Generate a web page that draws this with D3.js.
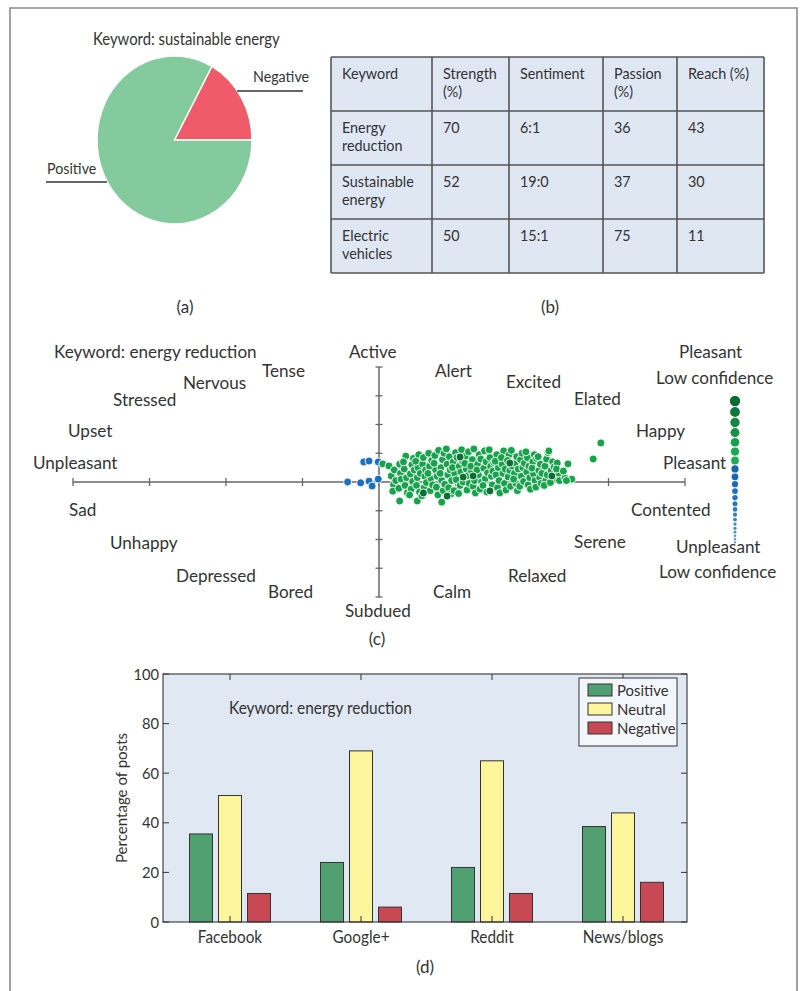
<!DOCTYPE html>
<html>
<head>
<meta charset="utf-8">
<script src="https://cdn.jsdelivr.net/npm/d3@7"></script>
<style>
  html, body { margin: 0; padding: 0; background: #fff; }
  svg text { font-family: Lato, "Open Sans", sans-serif; fill: #333; }
</style>
</head>
<body>
<svg id="fig" width="801" height="991"></svg>
<script>
// ---------- (a) pie: sentiment share for "sustainable energy" ----------
const pieLabels = ["Negative", "Positive"];
const pieValues = [17, 83];

// ---------- (b) keyword metrics table ----------
const tableHeaders = [["Keyword"], ["Strength", "(%)"], ["Sentiment"], ["Passion", "(%)"], ["Reach (%)"]];
const tableKeywords = [["Energy", "reduction"], ["Sustainable", "energy"], ["Electric", "vehicles"]];
const tableStrength = [70, 52, 50];
const tableSentiment = ["6:1", "19:0", "15:1"];
const tablePassion = [36, 37, 75];
const tableReach = [43, 30, 11];

// ---------- (c) valence / arousal scatter ----------
const moodLabels = [
  ["Keyword: energy reduction", 54, 358], ["Active", 349, 358], ["Tense", 262, 377],
  ["Nervous", 183, 389], ["Stressed", 113, 406], ["Upset", 68, 437], ["Unpleasant", 33, 469],
  ["Sad", 69, 516], ["Unhappy", 110, 549], ["Depressed", 176, 582], ["Bored", 268, 598],
  ["Subdued", 345, 617], ["Alert", 435, 377], ["Excited", 506, 388], ["Elated", 574, 405],
  ["Happy", 636, 437], ["Pleasant", 663, 469], ["Contented", 631, 516], ["Serene", 574, 548],
  ["Relaxed", 508, 582], ["Calm", 433, 598],
  ["Pleasant", 679, 358], ["Low confidence", 656, 384],
  ["Unpleasant", 676, 553], ["Low confidence", 659, 578]
];
// posts scored unpleasant (valence, arousal)
const negativePosts = [
  [-0.2, 0.7], [-0.13, 0.73], [-0.01, 0.7], [-0.41, 0.0],
  [-0.24, -0.03], [-0.13, 0.03], [-0.09, -0.14], [-0.01, 0.1]
];
// posts scored pleasant (valence, arousal)
const positivePosts = [
  [0.05, 0.63], [0.13, 0.56], [0.27, -0.66], [0.5, -0.66], [0.82, -0.7],
  [0.16, 0.21], [0.19, -0.1], [0.2, 0.42], [0.18, -0.32], [0.22, 0.05],
  [0.27, 0.62], [0.26, -0.22], [0.28, 0.3], [0.29, 0.1],
  [0.35, 0.9], [0.33, 0.45], [0.36, 0.15], [0.34, -0.12], [0.37, -0.38], [0.32, 0.7],
  [0.41, 0.28], [0.43, 0.6], [0.42, -0.25], [0.44, 0.02], [0.45, 0.82], [0.4, -0.45], [0.46, 0.42],
  [0.5, 0.15], [0.51, 0.5], [0.49, -0.12], [0.52, 0.95], [0.53, -0.35], [0.48, 0.72], [0.54, 0.3],
  [0.57, 0.62], [0.59, -0.2], [0.6, 0.2], [0.58, 0.85], [0.61, 0.42], [0.62, -0.02], [0.56, -0.48],
  [0.65, 1.0], [0.66, 0.55], [0.67, -0.3], [0.68, 0.12], [0.64, 0.3], [0.69, 0.75], [0.7, -0.1],
  [0.73, 0.92], [0.74, 0.42], [0.75, -0.18], [0.76, 0.2], [0.72, 0.65], [0.77, -0.45], [0.78, 1.1],
  [0.81, 0.5], [0.82, 0.05], [0.83, 0.78], [0.84, -0.3], [0.8, 0.3], [0.85, 1.0], [0.86, -0.08],
  [0.89, 0.62], [0.9, 0.25], [0.91, -0.2], [0.92, 0.88], [0.88, 1.15], [0.93, 0.42], [0.94, -0.42], [0.95, 0.05],
  [0.97, 0.7], [0.98, -0.3], [0.99, 0.3], [1.0, 1.02], [0.96, 0.5], [1.01, 0.08], [1.02, 0.85],
  [1.05, 0.55], [1.06, -0.12], [1.07, 0.35], [1.08, 1.12], [1.04, -0.4], [1.09, 0.72], [1.1, 0.0],
  [1.13, 0.9], [1.14, 0.45], [1.15, -0.28], [1.16, 0.22], [1.12, 0.65], [1.17, 1.05], [1.18, -0.05],
  [1.21, 0.38], [1.22, 0.78], [1.23, -0.15], [1.24, 1.15], [1.2, 0.55], [1.25, 0.05], [1.26, -0.38],
  [1.29, 0.62], [1.3, 0.25], [1.31, 0.95], [1.32, -0.25], [1.28, 0.42], [1.33, 0.8], [1.34, 0.0],
  [1.37, 0.48], [1.38, 1.08], [1.39, 0.12], [1.4, 0.7], [1.36, -0.12], [1.41, -0.35], [1.42, 0.32],
  [1.45, 0.85], [1.46, 0.55], [1.47, 0.2], [1.48, -0.1], [1.44, 1.12], [1.49, 0.38], [1.5, 0.68],
  [1.53, 0.25], [1.54, 0.95], [1.55, -0.2], [1.56, 0.5], [1.52, 0.72], [1.57, 0.05], [1.58, -0.38],
  [1.61, 0.62], [1.62, 0.3], [1.63, 1.08], [1.64, -0.05], [1.6, 0.85], [1.65, 0.45], [1.66, -0.28],
  [1.69, 0.18], [1.7, 0.95], [1.71, 0.4], [1.72, -0.15], [1.68, 0.75], [1.73, 1.1], [1.74, 0.55],
  [1.77, 0.3], [1.78, 0.65], [1.79, -0.05], [1.8, 0.88], [1.76, 0.1], [1.81, -0.3], [1.82, 0.45],
  [1.85, 0.78], [1.86, 0.2], [1.87, 1.0], [1.88, 0.5], [1.84, -0.15], [1.89, 0.02], [1.9, 0.65],
  [1.93, 0.35], [1.94, 0.85], [1.95, -0.1], [1.96, 0.55], [1.92, 1.05], [1.97, 0.15], [1.98, -0.25],
  [2.01, 0.7], [2.02, 0.28], [2.03, 0.95], [2.04, 0.05], [2.0, 0.48], [2.05, -0.18], [2.06, 0.82],
  [2.09, 0.4], [2.1, 0.15], [2.11, 0.62], [2.12, -0.05], [2.08, 0.88], [2.13, 0.3],
  [2.17, 0.55], [2.18, 0.05], [2.19, 0.8], [2.2, 0.25], [2.16, -0.12], [2.21, 1.02],
  [2.25, 0.4], [2.27, 0.7], [2.28, 0.12], [2.24, -0.02], [2.29, 0.52],
  [2.33, 0.66], [2.35, 0.3], [2.36, 0.05], [2.32, 0.45],
  [2.43, 0.14], [2.41, 0.38], [2.47, 0.63], [2.52, 0.1], [2.45, 0.05],
  [2.22, 1.08], [2.80, 0.80], [2.90, 1.36]
];
// strongly pleasant, high-confidence posts
const strongPosts = [
  [0.58, -0.38], [0.89, -0.49], [1.10, 0.17], [1.23, 0.21],
  [1.06, 0.87], [1.71, 0.66], [1.45, -0.31], [2.26, 0.21]
];
// confidence key: dot radius and colour, top (pleasant) to bottom (unpleasant)
const keyRadii = [5.2, 4.9, 4.7, 4.5, 4.3, 4.1, 3.9, 3.6, 3.4, 3.1, 2.9, 2.7, 2.5, 2.3, 2.1, 1.9, 1.7, 1.6, 1.4, 1.3, 1.2, 1.1];
const keyColors = ["#0b6b35", "#0d7a3c", "#0f8841", "#129646", "#15a04b", "#19a84f", "#1fae55",
  "#1266b4", "#1468b8", "#176cbb", "#1a70be", "#1e74c1", "#2378c4", "#287cc6", "#2d80c9",
  "#3284cb", "#3888cd", "#3e8ccf", "#4490d1", "#4a94d3", "#5098d5", "#569cd7"];

// ---------- (d) sentiment by channel ----------
const channels = ["Facebook", "Google+", "Reddit", "News/blogs"];
const sentimentSeries = ["Positive", "Neutral", "Negative"];
const positiveShare = [35.5, 24, 22, 38.5];
const neutralShare = [51, 69, 65, 44];
const negativeShare = [11.5, 6, 11.5, 16];
const percentTicks = [0, 20, 40, 60, 80, 100];

const svg = d3.select("#fig");

// squeeze a text element horizontally by factor k (narrow typeface look)
function narrow(sel, k) {
  sel.each(function () {
    const len = this.getComputedTextLength();
    d3.select(this).attr("textLength", len * k).attr("lengthAdjust", "spacingAndGlyphs");
  });
  return sel;
}

// outer frame
svg.append("path").attr("d", "M10,1000 V8 H797 V1000")
  .attr("fill", "none").attr("stroke", "#8a8a8a").attr("stroke-width", 1.6);

// ===== (a) =====
{
  const g = svg.append("g").attr("transform", "translate(174.5,140) scale(77.5,84)");
  const negFrac = pieValues[0] / d3.sum(pieValues);
  const start = Math.PI / 2 - 2 * Math.PI * negFrac;
  const pie = d3.pie().sort(null).startAngle(start).endAngle(start + 2 * Math.PI);
  const arc = d3.arc().innerRadius(0).outerRadius(1);
  const colors = { Negative: "#ef5b69", Positive: "#83cb9d" };
  g.selectAll("path").data(pie(pieValues)).join("path")
    .attr("d", arc)
    .attr("fill", (d, i) => colors[pieLabels[i]])
    .attr("stroke", "#fff").attr("stroke-width", 0.018);

  narrow(svg.append("text").attr("x", 93).attr("y", 45).attr("font-size", 16.5).text("Keyword: sustainable energy"), 0.9);
  narrow(svg.append("text").attr("x", 253).attr("y", 82).attr("font-size", 15.5).text(pieLabels[0]), 0.92);
  svg.append("line").attr("x1", 237).attr("x2", 303).attr("y1", 91).attr("y2", 91)
    .attr("stroke", "#333").attr("stroke-width", 1.4);
  narrow(svg.append("text").attr("x", 47).attr("y", 174).attr("font-size", 15.5).text(pieLabels[1]), 0.92);
  svg.append("line").attr("x1", 46).attr("x2", 107).attr("y1", 182).attr("y2", 182)
    .attr("stroke", "#333").attr("stroke-width", 1.4);
  svg.append("text").attr("x", 185).attr("y", 313).attr("font-size", 17)
    .attr("text-anchor", "middle").text("(a)");
}

// ===== (b) =====
{
  const colEdges = [331, 432, 509, 603, 677, 764];
  const rowEdges = [57, 111, 165, 219, 273];
  const g = svg.append("g");
  g.append("rect").attr("x", colEdges[0]).attr("y", rowEdges[0])
    .attr("width", colEdges[5] - colEdges[0]).attr("height", rowEdges[4] - rowEdges[0])
    .attr("fill", "#dfe7f3");
  const rows = [tableHeaders].concat(tableKeywords.map((k, i) =>
    [k, [String(tableStrength[i])], [tableSentiment[i]], [String(tablePassion[i])], [String(tableReach[i])]]));
  rows.forEach((row, r) => {
    row.forEach((lines, c) => {
      lines.forEach((ln, li) => {
        narrow(g.append("text").attr("x", colEdges[c] + 11).attr("y", rowEdges[r] + 22 + li * 17.5)
          .attr("font-size", 15.8).text(ln), 0.91);
      });
    });
  });
  colEdges.forEach(x => g.append("line").attr("x1", x).attr("x2", x)
    .attr("y1", rowEdges[0]).attr("y2", rowEdges[4]).attr("stroke", "#555").attr("stroke-width", 1.6));
  rowEdges.forEach(y => g.append("line").attr("x1", colEdges[0]).attr("x2", colEdges[5])
    .attr("y1", y).attr("y2", y).attr("stroke", "#555").attr("stroke-width", 1.6));
  svg.append("text").attr("x", 550).attr("y", 313).attr("font-size", 17)
    .attr("text-anchor", "middle").text("(b)");
}

// ===== (c) =====
{
  const x = d3.scaleLinear().domain([-4, 4]).range([73, 685]);
  const y = d3.scaleLinear().domain([-4, 4]).range([597, 367]);
  const g = svg.append("g");
  const axisColor = "#666";
  g.append("line").attr("x1", x(-4)).attr("x2", x(4)).attr("y1", y(0)).attr("y2", y(0))
    .attr("stroke", axisColor).attr("stroke-width", 1.5);
  g.append("line").attr("x1", x(0)).attr("x2", x(0)).attr("y1", y(-4)).attr("y2", y(4))
    .attr("stroke", axisColor).attr("stroke-width", 1.5);
  g.selectAll(".xt").data(x.ticks(8)).join("line")
    .attr("x1", d => x(d)).attr("x2", d => x(d)).attr("y1", y(0) - 4).attr("y2", y(0) + 4)
    .attr("stroke", axisColor).attr("stroke-width", 1.3);
  g.selectAll(".yt").data(y.ticks(8)).join("line")
    .attr("x1", x(0) - 3.5).attr("x2", x(0) + 3.5).attr("y1", d => y(d)).attr("y2", d => y(d))
    .attr("stroke", axisColor).attr("stroke-width", 1.3);

  moodLabels.forEach(([t, lx, ly]) => {
    narrow(g.append("text").attr("x", lx).attr("y", ly).attr("font-size", 18.2).text(t), 0.94);
  });

  const dot = (data, color) => g.append("g").selectAll("circle").data(data).join("circle")
    .attr("cx", d => x(d[0])).attr("cy", d => y(d[1])).attr("r", 4)
    .attr("fill", color).attr("stroke", "#fff").attr("stroke-width", 0.9);
  dot(negativePosts, "#1b6fc0");
  dot(positivePosts, "#18a24c");
  dot(strongPosts, "#0d6e36");

  // confidence key column
  let cy = 401;
  keyRadii.forEach((r, i) => {
    if (i > 0) cy += keyRadii[i - 1] + r + 0.9;
    g.append("circle").attr("cx", 735).attr("cy", cy).attr("r", r).attr("fill", keyColors[i]);
  });

  svg.append("text").attr("x", 377).attr("y", 645).attr("font-size", 17)
    .attr("text-anchor", "middle").text("(c)");
}

// ===== (d) =====
{
  const left = 163, right = 687, top = 674, bottom = 922;
  const x = d3.scaleBand().domain(channels).range([left, right]);
  const xs = d3.scaleBand().domain(sentimentSeries).range([-40.5, 40.5]).paddingInner(6 / 29);
  const y = d3.scaleLinear().domain([0, 100]).range([bottom, top]);
  const seriesValues = { Positive: positiveShare, Neutral: neutralShare, Negative: negativeShare };
  const seriesColors = { Positive: "#51a071", Neutral: "#fdf59b", Negative: "#c84853" };
  const g = svg.append("g");
  g.append("rect").attr("x", left).attr("y", top).attr("width", right - left).attr("height", bottom - top)
    .attr("fill", "#e0e8f4");

  sentimentSeries.forEach(s => {
    g.append("g").selectAll("rect").data(channels).join("rect")
      .attr("x", c => x(c) + x.bandwidth() / 2 + xs(s) + 1.5)
      .attr("width", xs.bandwidth())
      .attr("y", (c, i) => y(seriesValues[s][i]))
      .attr("height", (c, i) => y(0) - y(seriesValues[s][i]))
      .attr("fill", seriesColors[s]).attr("stroke", "#333").attr("stroke-width", 1);
  });

  // frame and inward ticks
  g.append("rect").attr("x", left).attr("y", top).attr("width", right - left).attr("height", bottom - top)
    .attr("fill", "none").attr("stroke", "#333").attr("stroke-width", 1.1);
  const tk = 6;
  percentTicks.forEach(v => {
    g.append("line").attr("x1", left).attr("x2", left + tk).attr("y1", y(v)).attr("y2", y(v)).attr("stroke", "#333");
    g.append("line").attr("x1", right - tk).attr("x2", right).attr("y1", y(v)).attr("y2", y(v)).attr("stroke", "#333");
    narrow(g.append("text").attr("x", left - 4).attr("y", y(v) + 5.5).attr("font-size", 16)
      .attr("text-anchor", "end").text(v), 0.92);
  });
  channels.forEach(c => {
    const cx = x(c) + x.bandwidth() / 2 + 1.5;
    g.append("line").attr("x1", cx).attr("x2", cx).attr("y1", top).attr("y2", top + tk).attr("stroke", "#333");
    g.append("line").attr("x1", cx).attr("x2", cx).attr("y1", bottom - tk).attr("y2", bottom).attr("stroke", "#333");
    narrow(g.append("text").attr("x", cx).attr("y", 943).attr("font-size", 16.5)
      .attr("text-anchor", "middle").text(c), 0.93);
  });

  narrow(g.append("text").attr("x", 229).attr("y", 714).attr("font-size", 16.6).text("Keyword: energy reduction"), 0.93);
  narrow(g.append("text").attr("transform", "translate(127,798) rotate(-90)").attr("font-size", 16.2)
    .attr("text-anchor", "middle").text("Percentage of posts"), 0.93);

  // legend
  const lg = g.append("g");
  lg.append("rect").attr("x", 579).attr("y", 678).attr("width", 98).attr("height", 68)
    .attr("fill", "#f3f6fb").attr("stroke", "#333").attr("stroke-width", 1);
  sentimentSeries.forEach((s, i) => {
    const ry = 690 + i * 19;
    lg.append("rect").attr("x", 588).attr("y", ry - 6).attr("width", 24).attr("height", 12)
      .attr("fill", seriesColors[s]).attr("stroke", "#333").attr("stroke-width", 1);
    narrow(lg.append("text").attr("x", 617).attr("y", ry + 5.5).attr("font-size", 16).text(s), 0.93);
  });

  svg.append("text").attr("x", 425).attr("y", 973).attr("font-size", 17)
    .attr("text-anchor", "middle").text("(d)");
}
</script>
</body>
</html>
